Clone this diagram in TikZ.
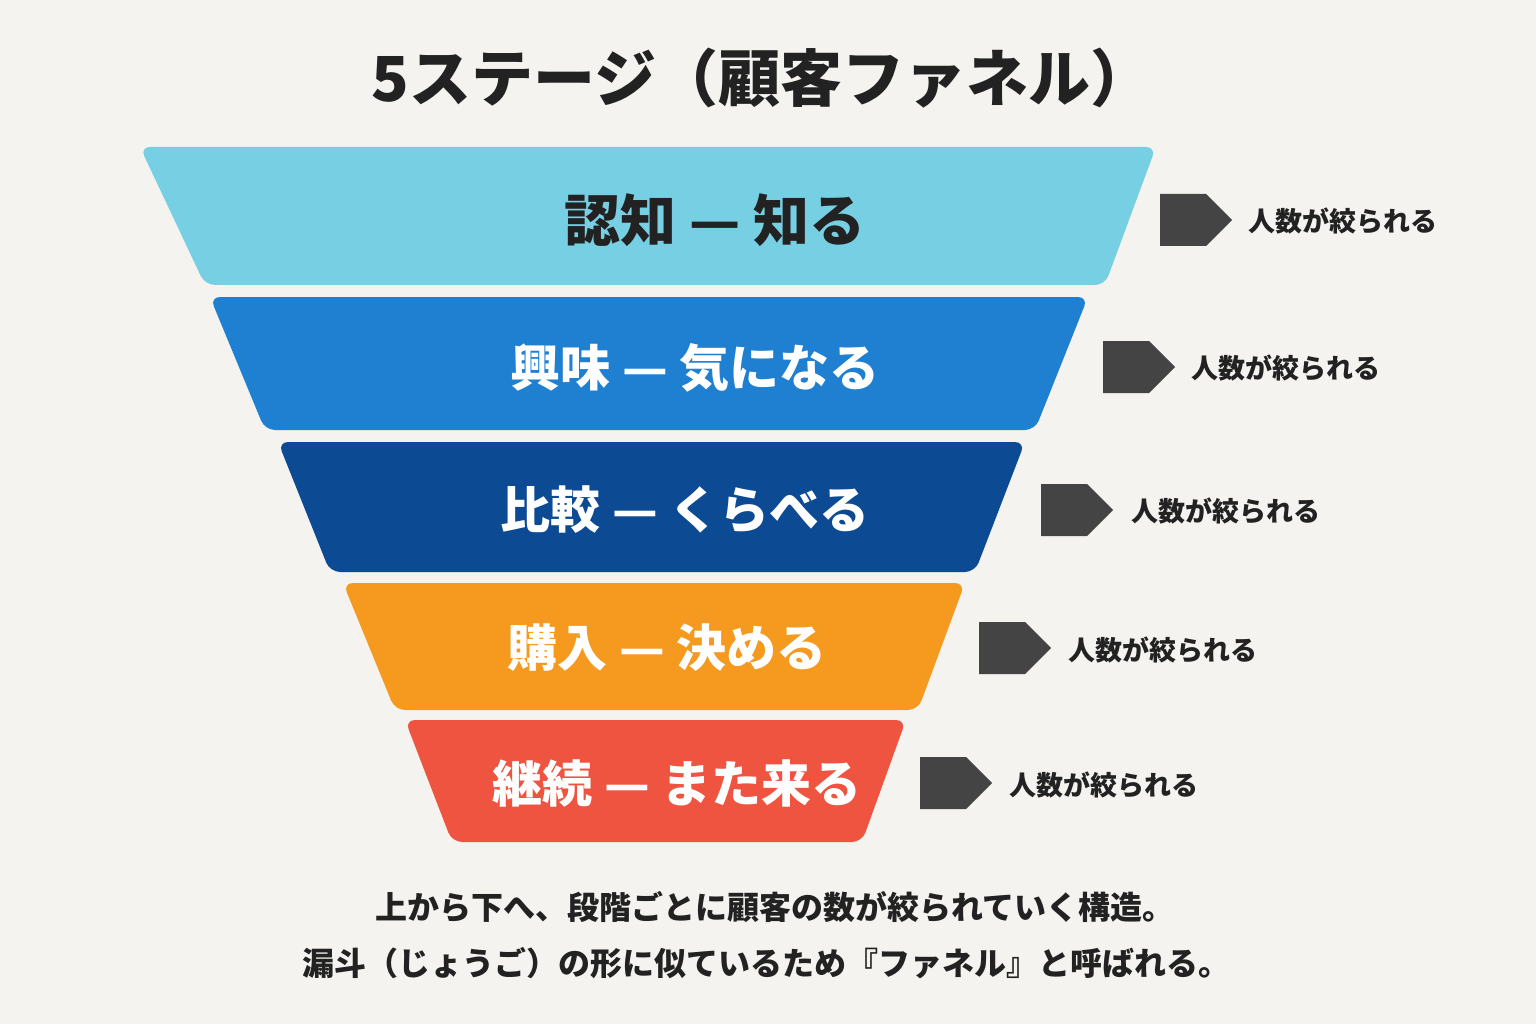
\documentclass[tikz,border=0pt]{standalone}
\usepackage{fontspec}
\newfontfamily\cjk{Noto Sans CJK JP}
\usetikzlibrary{shapes.arrows}
\definecolor{bg}{HTML}{F4F3EF}
\definecolor{c1}{HTML}{76CFE3}
\definecolor{c2}{HTML}{1F7FD0}
\definecolor{c3}{HTML}{0D4A94}
\definecolor{c4}{HTML}{F5991F}
\definecolor{c5}{HTML}{EE5440}
\definecolor{ink}{HTML}{222222}
\definecolor{arr}{HTML}{444444}
\begin{document}
\begin{tikzpicture}[x=1pt,y=-1pt,
  stage/.style={rounded corners=10pt},
  lbl/.style={font=\cjk\bfseries\fontsize{50}{56}\selectfont},
  bar/.style={single arrow,fill=arr,minimum width=52pt,minimum height=72pt,single arrow head extend=0pt,single arrow tip angle=90,inner sep=0pt,shape border rotate=0},
  note/.style={font=\cjk\bfseries\fontsize{27}{30}\selectfont,text=ink,anchor=west}]
\fill[bg] (0,0) rectangle (1536,1024);
\useasboundingbox (0,0) rectangle (1536,1024);
\node[font=\cjk\bfseries\fontsize{62}{70}\selectfont,text=ink] (title) at (762,78) {5ステージ（顧客ファネル）};
\fill[c1,stage] (140,147)--(1156,147)--(1105,285)--(205,285)--cycle;
\fill[c2,stage] (210,297)--(1088,297)--(1035,430)--(265,430)--cycle;
\fill[c3,stage] (278,442)--(1025,442)--(975,572)--(330,572)--cycle;
\fill[c4,stage] (343,583)--(965,583)--(918,710)--(395,710)--cycle;
\fill[c5,stage] (405,720)--(906,720)--(862,842)--(452,842)--cycle;
\node[lbl,text=ink,font=\cjk\bfseries\fontsize{56}{60}\selectfont] (s1) at (715,220) {認知 — 知る};
\node[lbl,text=white] (s2) at (695,368) {興味 — 気になる};
\node[lbl,text=white] (s3) at (685,510) {比較 — くらべる};
\node[lbl,text=white] (s4) at (667,648) {購入 — 決める};
\node[lbl,text=white] (s5) at (677,783) {継続 — また来る};
\node[bar] (a1) at (1183,220) {};
\node[bar] (a2) at (1126,367) {};
\node[bar] (a3) at (1064,510) {};
\node[bar] (a4) at (1002,648) {};
\node[bar] (a5) at (943,783) {};
\node[note] (n1) at (1245,221) {人数が絞られる};
\node[note] (n2) at (1188,368) {人数が絞られる};
\node[note] (n3) at (1128,511) {人数が絞られる};
\node[note] (n4) at (1065,650) {人数が絞られる};
\node[note] (n5) at (1006,785) {人数が絞られる};
\node[font=\cjk\bfseries\fontsize{32}{36}\selectfont,text=ink] (b1) at (775,907) {上から下へ、段階ごとに顧客の数が絞られていく構造。};
\node[font=\cjk\bfseries\fontsize{32}{36}\selectfont,text=ink] (b2) at (766,963) {漏斗（じょうご）の形に似ているため『ファネル』と呼ばれる。};
\end{tikzpicture}
\end{document}
